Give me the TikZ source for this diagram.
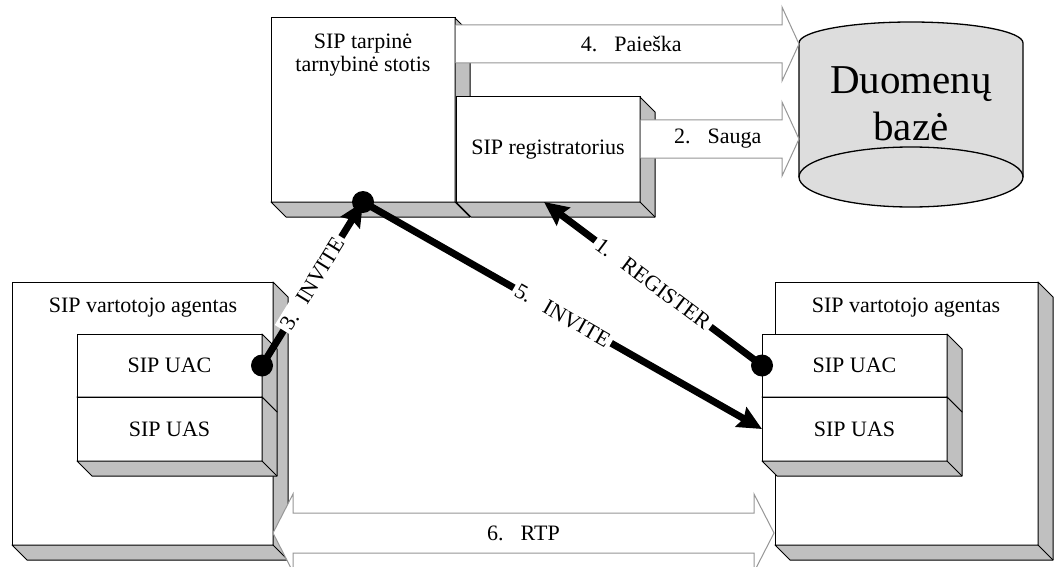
\documentclass[tikz,border=0pt]{standalone}
\usepackage{fontspec}
\setmainfont{Liberation Serif}
\usetikzlibrary{calc,arrows.meta}

\definecolor{facegray}{RGB}{192,192,192}
\definecolor{cylgray}{RGB}{221,221,221}
\definecolor{rimgray}{RGB}{150,150,150}

% extruded right and bottom faces of a 3-D box node
\newcommand\sidefaces[1]{%
  \draw[sideface] (#1.north east) -- ++(15,15) -- ($(#1.south east)+(15,15)$)
    -- ($(#1.south west)+(15,15)$) -- (#1.south west) -- (#1.south east) -- cycle;
  \draw[sideface,fill=none] (#1.south east) -- ++(15,15);}

% open-tailed block arrow pointing right: #1 tail centre, #2 tip
\newcommand\rightblock[2]{%
  \fill[white] ($(#1)+(0,-19)$) -- ($(#2)+(-17,-19)$) -- ($(#2)+(-17,-37)$) -- (#2)
    -- ($(#2)+(-17,37)$) -- ($(#2)+(-17,19)$) -- ($(#1)+(0,19)$) -- cycle;
  \draw[blockline] ($(#1)+(0,-19)$) -- ($(#2)+(-17,-19)$) -- ($(#2)+(-17,-37)$) -- (#2)
    -- ($(#2)+(-17,37)$) -- ($(#2)+(-17,19)$) -- ($(#1)+(0,19)$);}

% two-headed block arrow: #1 left tip, #2 right tip
\newcommand\doubleblock[2]{%
  \filldraw[blockline,fill=white] (#1) -- ($(#1)+(20,-39)$) -- ($(#1)+(20,-20)$)
    -- ($(#2)+(-20,-20)$) -- ($(#2)+(-20,-39)$) -- (#2) -- ($(#2)+(-20,39)$)
    -- ($(#2)+(-20,20)$) -- ($(#1)+(20,20)$) -- ($(#1)+(20,39)$) -- cycle;}

\begin{document}
\begin{tikzpicture}[x=1pt,y=-1pt,
  frontbox/.style={draw=black,fill=white,line width=1pt,inner sep=0pt,outer sep=0pt,
    font=\fontsize{22}{24}\selectfont},
  sideface/.style={draw=black,fill=facegray,line width=1pt,line join=round},
  blockline/.style={draw=rimgray,line width=1pt},
  txt/.style={font=\fontsize{22}{23}\selectfont,inner sep=0pt},
  msg/.style={line width=7pt,draw=black},
  msgtip/.style={-{Stealth[length=24pt,width=22pt,inset=3pt]}},
  msglabel/.style={sloped,fill=white,inner sep=3pt,font=\fontsize{22}{24}\selectfont}]
\useasboundingbox (0,0) rectangle (1054,567);

% ---- left user agent ----
\node[frontbox,minimum width=261pt,minimum height=263pt] (uaL) at (142.5,413.5) {};
\sidefaces{uaL}
\node[txt,anchor=base] (uaLtxt) at (143,312) {SIP vartotojo agentas};
\node[frontbox,minimum width=185pt,minimum height=63pt] (uacL) at (169.5,365.5) {SIP UAC};
\sidefaces{uacL}
\node[frontbox,minimum width=185pt,minimum height=64pt] (uasL) at (169.5,429) {SIP UAS};
\sidefaces{uasL}

% ---- right user agent ----
\node[frontbox,minimum width=263pt,minimum height=263pt] (uaR) at (906.5,413.5) {};
\sidefaces{uaR}
\node[txt,anchor=base] (uaRtxt) at (906,312) {SIP vartotojo agentas};
\node[frontbox,minimum width=185pt,minimum height=63pt] (uacR) at (854.5,365.5) {SIP UAC};
\sidefaces{uacR}
\node[frontbox,minimum width=185pt,minimum height=64pt] (uasR) at (854.5,429) {SIP UAS};
\sidefaces{uasR}

% ---- database cylinder ----
\node[minimum width=224pt,minimum height=134pt,inner sep=0pt,outer sep=0pt] (db) at (911,110) {};
\fill[cylgray] (db.north west) arc[start angle=180,end angle=360,x radius=112,y radius=21]
  -- (db.south east) arc[start angle=0,end angle=180,x radius=112,y radius=30] -- cycle;
\draw[line width=1.3pt] (db.south west) -- (db.north west)
  arc[start angle=180,end angle=360,x radius=112,y radius=21] -- (db.south east);
\draw[line width=1.3pt] (db.south) ellipse [x radius=112,y radius=30];
\node[font=\fontsize{41}{47}\selectfont,align=center,inner sep=0pt] (dbtxt)
  at ($(db.center)+(0,-6)$) {Duomenų\\bazė};

% ---- proxy server ----
\node[frontbox,minimum width=184pt,minimum height=184pt] (proxy) at (363,110) {};
\sidefaces{proxy}
\node[txt,align=center] (proxytxt) at (363,55.4) {SIP tarpinė\\tarnybinė stotis};

% lookup arrow
\coordinate (p4s) at ($(proxy.north east)+(0.6,26)$);
\coordinate (p4t) at (db.west |- p4s);
\rightblock{p4s}{p4t}
\node[txt] (p4lbl) at ($(p4s)!0.5!(p4t)+(4,0)$) {4.\hspace{17pt}Paieška};

% ---- registrar ----
\node[frontbox,minimum width=184pt,minimum height=105pt] (reg) at (548,149.5) {SIP registratorius};
\sidefaces{reg}

% storage arrow
\coordinate (p2s) at ($(reg.north east)+(0.6,42)$);
\coordinate (p2t) at (db.west |- p2s);
\rightblock{p2s}{p2t}
\node[txt] (p2lbl) at ($(p2s)!0.5!(p2t)+(-2,0)$) {2.\hspace{17pt}Sauga};

% ---- media stream ----
\coordinate (rtpL) at ($(uaL.south east)+(0,-12)$);
\coordinate (rtpR) at ($(uaR.south west)+(-1,-12)$);
\doubleblock{rtpL}{rtpR}
\node[txt] (rtplbl) at ($(rtpL)!0.5!(rtpR)$) {6.\hspace{17pt}RTP};

% ---- signalling messages ----
\draw[msg,msgtip] (uacR.west) -- node[msglabel] {1.\hspace{16pt}REGISTER} ($(reg.south)+(-4,0)$);
\draw[msg,msgtip] (uacL.east) -- node[msglabel] {3.\hspace{14pt}INVITE} (proxy.south);
\draw[msg,msgtip] (proxy.south) -- node[msglabel] {5.\hspace{16pt}INVITE} (uasR.west);
\fill (uacR.west) circle[radius=11];
\fill (uacL.east) circle[radius=11];
\fill (proxy.south) circle[radius=11];
\end{tikzpicture}
\end{document}
